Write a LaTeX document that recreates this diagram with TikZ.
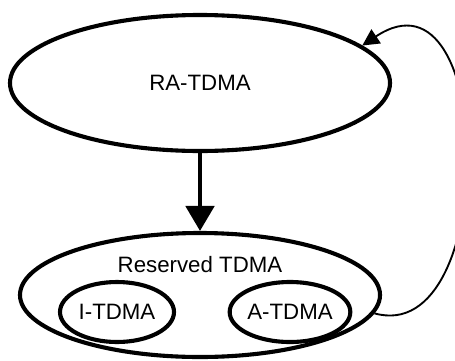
\documentclass[tikz,border=0pt]{standalone}
\usepackage{fontspec}
\setmainfont{Liberation Sans}
\usepackage{tikz}
\usetikzlibrary{arrows.meta,shapes.geometric}
\definecolor{edge_black}{RGB}{0,0,0}

\begin{document}
\begin{tikzpicture}[x=0.03cm,y=-0.03cm,font=\fontsize{19}{22}\selectfont]
    \tikzstyle{state}=[draw=edge_black, ellipse, line width=3.5pt, inner sep=0pt, fill=none, text=black]
    \tikzstyle{big}=[style=state, minimum width=11.4cm, minimum height=4.08cm]
    \tikzstyle{outer}=[style=state, minimum width=10.8cm, minimum height=3.72cm]
    \tikzstyle{small}=[style=state, minimum width=3.42cm, minimum height=1.8cm]
    \useasboundingbox (0,0) rectangle (455,360);

    \node[big]   (ra)  at (200,83)  {RA-TDMA};
    \node[outer] (res) at (200,295) {};
    \node        (rl)  at (200,265) {Reserved TDMA};
    \node[small] (it)  at (117,312) {I-TDMA};
    \node[small] (at)  at (290,312) {A-TDMA};
    \path
     (ra) edge[line width=3.5pt,-{Triangle[length=0.75cm,width=0.85cm]}] (res)
     ;
    \draw[line width=1.6pt,-{Triangle[length=0.5cm,width=0.5cm]}]
     (res.-6) .. controls +(125,35) and +(135,-90) .. (ra.13);
\end{tikzpicture}
\end{document}
